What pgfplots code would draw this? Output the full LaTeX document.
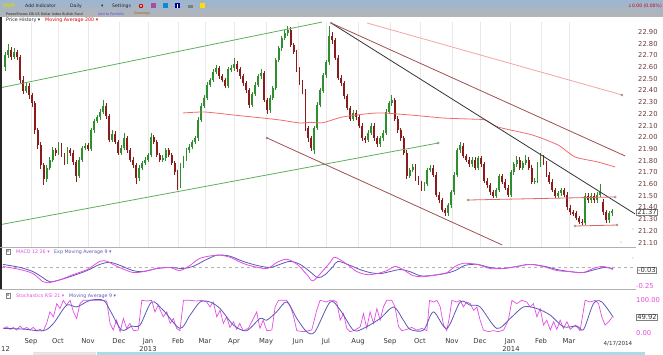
\documentclass[border=0pt]{standalone}
\usepackage{pgfplots}
\pgfplotsset{compat=1.18}
\usepackage{pgfplotstable}
\usepackage{fontspec}
\setmainfont{DejaVu Sans}
\definecolor{upc}{HTML}{2F8F2F}
\definecolor{dnc}{HTML}{8B1C1C}
\definecolor{grn}{HTML}{5DAE5D}
\definecolor{brn}{HTML}{A05050}
\definecolor{salm}{HTML}{F5A3A3}
\definecolor{mac}{HTML}{F06C6C}
\definecolor{hln}{HTML}{E06666}
\definecolor{mag}{HTML}{E44DE4}
\definecolor{sig}{HTML}{5A5AB4}
\definecolor{lbl}{HTML}{6E3A3A}
\definecolor{gridc}{HTML}{E9E9E9}
\definecolor{hdtop}{HTML}{9CB6D2}
\definecolor{hdbot}{HTML}{B4B4B4}
\definecolor{sepc}{HTML}{B0B0B0}
\definecolor{uupc}{HTML}{D8D800}
\definecolor{hdtx}{HTML}{222222}
\definecolor{bandc}{HTML}{A8DDE8}

\pgfplotstableread{
x o h l c
0.1 22.60 22.73 22.57 22.70
0.2 22.70 22.80 22.68 22.75
0.3 22.75 22.77 22.66 22.69
0.4 22.69 22.76 22.67 22.73
0.5 22.73 22.75 22.66 22.69
0.6 22.69 22.70 22.46 22.49
0.7 22.49 22.52 22.37 22.40
0.8 22.40 22.47 22.38 22.44
0.9 22.44 22.46 22.33 22.36
1.0 22.36 22.38 22.26 22.29
1.1 22.29 22.31 22.03 22.06
1.2 22.06 22.08 21.90 21.93
1.3 21.93 21.96 21.73 21.76
1.4 21.76 21.78 21.59 21.64
1.5 21.64 21.76 21.62 21.74
1.6 21.74 21.83 21.72 21.81
1.7 21.81 21.92 21.79 21.89
1.8 21.89 21.91 21.84 21.87
1.9 21.87 21.96 21.85 21.93
2.0 21.93 21.95 21.83 21.85
2.1 21.85 21.87 21.76 21.79
2.2 21.79 21.92 21.77 21.89
2.3 21.89 21.91 21.84 21.87
2.4 21.87 21.89 21.76 21.79
2.5 21.79 21.81 21.62 21.67
2.6 21.67 21.83 21.65 21.81
2.7 21.81 21.93 21.79 21.91
2.8 21.91 21.95 21.89 21.93
2.9 21.93 21.95 21.88 21.90
3.0 21.90 22.08 21.88 22.06
3.1 22.06 22.16 22.04 22.14
3.2 22.14 22.19 22.12 22.17
3.3 22.17 22.24 22.15 22.22
3.4 22.22 22.32 22.20 22.27
3.5 22.27 22.29 22.16 22.18
3.6 22.18 22.20 21.96 21.98
3.7 21.98 22.06 21.96 22.03
3.8 22.03 22.05 21.94 21.96
3.9 21.96 21.98 21.85 21.87
4.0 21.87 21.93 21.85 21.91
4.1 21.91 22.04 21.89 21.99
4.2 21.99 22.01 21.87 21.89
4.3 21.89 21.91 21.79 21.81
4.4 21.81 21.83 21.74 21.76
4.5 21.76 21.78 21.60 21.65
4.6 21.65 21.76 21.63 21.74
4.7 21.74 21.80 21.72 21.78
4.8 21.78 21.83 21.76 21.81
4.9 21.81 21.87 21.79 21.85
5.0 21.85 22.04 21.83 22.00
5.1 22.00 22.02 21.94 21.96
5.2 21.96 21.98 21.83 21.85
5.3 21.85 21.87 21.79 21.81
5.4 21.81 21.85 21.79 21.82
5.5 21.82 21.91 21.80 21.89
5.6 21.89 21.91 21.83 21.85
5.7 21.85 21.87 21.76 21.78
5.8 21.78 21.80 21.68 21.70
5.9 21.70 21.72 21.55 21.59
6.0 21.59 21.78 21.57 21.76
6.1 21.76 21.84 21.74 21.82
6.2 21.82 21.91 21.80 21.89
6.3 21.89 21.94 21.87 21.92
6.4 21.92 21.98 21.90 21.96
6.5 21.96 22.01 21.94 21.99
6.6 21.99 22.17 21.97 22.15
6.7 22.15 22.29 22.13 22.27
6.8 22.27 22.36 22.25 22.34
6.9 22.34 22.47 22.32 22.45
7.0 22.45 22.51 22.43 22.49
7.1 22.49 22.58 22.47 22.56
7.2 22.56 22.62 22.54 22.59
7.3 22.59 22.61 22.50 22.52
7.4 22.52 22.54 22.47 22.49
7.5 22.49 22.51 22.42 22.44
7.6 22.44 22.60 22.42 22.58
7.7 22.58 22.62 22.56 22.59
7.8 22.59 22.68 22.57 22.63
7.9 22.63 22.65 22.56 22.58
8.0 22.58 22.60 22.50 22.52
8.1 22.52 22.54 22.44 22.46
8.2 22.46 22.48 22.38 22.40
8.3 22.40 22.42 22.25 22.28
8.4 22.28 22.39 22.26 22.37
8.5 22.37 22.47 22.35 22.45
8.6 22.45 22.54 22.43 22.52
8.7 22.52 22.58 22.50 22.55
8.8 22.55 22.57 22.30 22.32
8.9 22.32 22.34 22.20 22.23
9.0 22.23 22.36 22.21 22.34
9.1 22.34 22.44 22.32 22.42
9.2 22.42 22.68 22.40 22.66
9.3 22.66 22.78 22.64 22.76
9.4 22.76 22.87 22.74 22.85
9.5 22.85 22.92 22.83 22.89
9.6 22.89 22.95 22.87 22.92
9.7 22.92 22.94 22.77 22.79
9.8 22.79 22.81 22.71 22.73
9.9 22.73 22.75 22.56 22.58
10.0 22.58 22.60 22.45 22.47
10.1 22.47 22.49 22.37 22.39
10.2 22.39 22.41 22.05 22.08
10.3 22.08 22.10 21.96 21.99
10.4 21.99 22.01 21.88 21.91
10.5 21.89 22.10 21.86 22.08
10.6 22.08 22.30 22.06 22.28
10.7 22.28 22.42 22.26 22.40
10.8 22.40 22.55 22.38 22.53
10.9 22.53 22.66 22.51 22.64
11.0 22.64 22.95 22.62 22.87
11.1 22.87 22.90 22.80 22.83
11.2 22.83 22.85 22.66 22.68
11.3 22.68 22.70 22.49 22.51
11.4 22.51 22.53 22.44 22.46
11.5 22.46 22.48 22.33 22.35
11.6 22.35 22.37 22.23 22.25
11.7 22.25 22.27 22.14 22.16
11.8 22.16 22.23 22.14 22.21
11.9 22.21 22.23 22.15 22.17
12.0 22.17 22.19 22.08 22.10
12.1 22.10 22.12 21.97 21.99
12.2 21.99 22.01 21.95 21.98
12.3 21.98 22.06 21.96 22.04
12.4 22.04 22.12 22.02 22.10
12.5 22.10 22.12 21.97 21.99
12.6 21.99 22.01 21.92 21.94
12.7 21.94 22.01 21.92 21.99
12.8 21.99 22.06 21.97 22.04
12.9 22.04 22.24 22.02 22.22
13.0 22.22 22.31 22.20 22.29
13.1 22.29 22.36 22.27 22.32
13.2 22.32 22.34 22.14 22.16
13.3 22.16 22.18 22.04 22.06
13.4 22.06 22.08 21.97 21.99
13.5 21.99 22.01 21.85 21.87
13.6 21.87 21.89 21.64 21.67
13.7 21.67 21.74 21.65 21.72
13.8 21.72 21.77 21.70 21.75
13.9 21.75 21.77 21.63 21.65
14.0 21.65 21.67 21.59 21.61
14.1 21.61 21.63 21.54 21.56
14.2 21.56 21.62 21.54 21.60
14.3 21.60 21.74 21.58 21.72
14.4 21.72 21.76 21.70 21.74
14.5 21.74 21.76 21.66 21.68
14.6 21.68 21.70 21.49 21.51
14.7 21.51 21.53 21.44 21.46
14.8 21.46 21.48 21.36 21.38
14.9 21.38 21.40 21.33 21.35
15.0 21.35 21.44 21.33 21.42
15.1 21.42 21.55 21.40 21.53
15.2 21.53 21.70 21.51 21.68
15.3 21.68 21.91 21.66 21.89
15.4 21.89 21.96 21.87 21.93
15.5 21.93 21.95 21.82 21.84
15.6 21.84 21.86 21.79 21.81
15.7 21.81 21.83 21.75 21.77
15.8 21.77 21.83 21.75 21.81
15.9 21.81 21.83 21.72 21.74
16.0 21.74 21.84 21.72 21.82
16.1 21.82 21.84 21.75 21.77
16.2 21.77 21.79 21.61 21.63
16.3 21.63 21.65 21.57 21.59
16.4 21.59 21.61 21.51 21.53
16.5 21.53 21.55 21.48 21.50
16.6 21.50 21.57 21.48 21.55
16.7 21.55 21.69 21.53 21.67
16.8 21.67 21.69 21.60 21.62
16.9 21.62 21.64 21.55 21.57
17.0 21.57 21.59 21.49 21.51
17.1 21.51 21.72 21.49 21.70
17.2 21.70 21.79 21.68 21.77
17.3 21.77 21.84 21.75 21.81
17.4 21.81 21.83 21.72 21.74
17.5 21.74 21.80 21.72 21.78
17.6 21.78 21.85 21.76 21.81
17.7 21.81 21.83 21.72 21.74
17.8 21.74 21.76 21.60 21.62
17.9 21.62 21.65 21.60 21.63
18.0 21.63 21.79 21.61 21.77
18.1 21.77 21.87 21.75 21.83
18.2 21.83 21.85 21.76 21.78
18.3 21.78 21.80 21.66 21.68
18.4 21.68 21.70 21.60 21.62
18.5 21.62 21.64 21.53 21.55
18.6 21.55 21.57 21.48 21.50
18.7 21.50 21.54 21.48 21.52
18.8 21.52 21.57 21.50 21.55
18.9 21.55 21.57 21.49 21.51
19.0 21.51 21.53 21.38 21.40
19.1 21.40 21.42 21.34 21.36
19.2 21.36 21.38 21.33 21.35
19.3 21.35 21.37 21.29 21.31
19.4 21.31 21.33 21.26 21.28
19.5 21.28 21.30 21.25 21.27
19.6 21.27 21.52 21.25 21.50
19.7 21.50 21.52 21.44 21.46
19.8 21.46 21.52 21.44 21.50
19.9 21.50 21.52 21.44 21.46
20.0 21.46 21.53 21.44 21.51
20.1 21.51 21.60 21.49 21.53
20.2 21.45 21.47 21.34 21.36
20.3 21.36 21.38 21.27 21.29
20.4 21.29 21.37 21.27 21.35
20.5 21.35 21.39 21.33 21.37
}\price

\pgfplotsset{
  panel/.style={scale only axis, width=634bp, xmin=0, xmax=21.31,
    axis line style={draw=none}, major tick length=0pt,
    xtick={0.975,1.882,2.891,3.933,4.908,5.916,6.824,7.798,8.874,9.950,10.891,11.966,13.042,14.050,15.126,16.067,17.076,18.118,19.059},
    yticklabel pos=right,
    /pgf/number format/assume math mode=true,
    clip=true},
  wick/.style={draw=none, mark=none, forget plot, error bars/y dir=both, error bars/y explicit, error bars/error mark=none,
    error bars/error bar style={draw=#1, line width=0.5bp}},
  body/.style={draw=none, mark=none, forget plot, error bars/y dir=both, error bars/y explicit, error bars/error mark=none,
    error bars/error bar style={draw=#1, line width=1.9bp}},
  endmk/.style={mark=o, mark size=1.1bp, mark options={draw=gray, solid, line width=0.4bp}}
}

\begin{document}
\begin{tikzpicture}
\path[use as bounding box] (0bp,0bp) rectangle (663bp,355bp);
\begin{scope}[x=1bp,y=1bp]
% header
\shade[top color=hdtop, bottom color=hdbot] (0,338) rectangle (663,355);
\node[anchor=west, inner sep=0, font=\fontsize{5}{6}\selectfont\bfseries, text=uupc] at (3,349) {UUP};
\node[anchor=west, inner sep=0, font=\fontsize{4.6}{6}\selectfont, text=hdtx] at (25,349) {Add Indicator};
\node[anchor=west, inner sep=0, font=\fontsize{4.6}{6}\selectfont, text=hdtx] at (70,349) {Daily};
\node[anchor=west, inner sep=0, font=\fontsize{4.6}{6}\selectfont, text=hdtx] at (101,349) {▾};
\node[anchor=west, inner sep=0, font=\fontsize{4.6}{6}\selectfont, text=hdtx] at (112,349) {Settings};
\fill[red!80!black] (141,349) circle (2.2);
\fill[white] (141,349) circle (1);
\fill[violet!70] (150.5,346.5) rectangle (155.5,351.5);
\fill[cyan!70!blue] (162.5,346.5) rectangle (167.5,351.5);
\fill[blue!60!black] (174.5,346.5) rectangle (179.5,351.5);
\fill[white] (176.5,347) rectangle (177.5,350.5);
\fill[gray] (188,347) rectangle (193,350);
\fill[yellow!80!orange] (200,346.5) rectangle (205,351.5);
\node[anchor=east, inner sep=0, font=\fontsize{4.6}{6}\selectfont, text=red!80!black] at (662,349) {↓0.00 (0.00\%)};
\node[anchor=west, inner sep=0, font=\fontsize{3.4}{4}\selectfont, text=hdtx] at (6,341) {PowerShares DB US Dollar Index Bullish Fund};
\node[anchor=west, inner sep=0, font=\fontsize{3.4}{4}\selectfont, text=blue!70] at (98,341) {Add to Portfolio};
\node[anchor=west, inner sep=0, font=\fontsize{3.4}{4}\selectfont, text=orange!70!black] at (134,341) {Drawings};
% left dark edge and separators
\fill[black!85] (0,65) rectangle (2,338);
\draw[sepc, line width=0.7bp] (0,107.5) -- (636,107.5);
\draw[sepc, line width=0.7bp] (0,65.5) -- (636,65.5);
% bottom band
\fill[black!10] (33,0) rectangle (96,3);
\fill[bandc] (97,0) rectangle (645,3.5);
\end{scope}

% ---------------- price panel
\begin{axis}[panel, at={(2bp,108bp)}, anchor=south west, height=225bp,
  ymin=21.0624, ymax=22.9855,
  xticklabels={}, xmajorgrids, major grid style={gridc, line width=0.9bp},
  ytick={21.1,21.2,21.3,21.4,21.5,21.6,21.7,21.8,21.9,22.0,22.1,22.2,22.3,22.4,22.5,22.6,22.7,22.8,22.9},
  yticklabel style={font=\fontsize{6.8}{8}\selectfont, text=lbl, anchor=west, inner sep=0pt, xshift=2bp,
    /pgf/number format/fixed, /pgf/number format/fixed zerofill, /pgf/number format/precision=2}]
% candles
\addplot[restrict expr to domain={\thisrow{c}-\thisrow{o}}{0:5}, wick=upc]
  table[x=x, y expr={(\thisrow{h}+\thisrow{l})/2}, y error expr={(\thisrow{h}-\thisrow{l})/2}] {\price};
\addplot[restrict expr to domain={\thisrow{c}-\thisrow{o}}{0:5}, body=upc]
  table[x=x, y expr={(\thisrow{o}+\thisrow{c})/2}, y error expr={(\thisrow{c}-\thisrow{o})/2}] {\price};
\addplot[restrict expr to domain={\thisrow{c}-\thisrow{o}}{-5:-0.001}, wick=dnc]
  table[x=x, y expr={(\thisrow{h}+\thisrow{l})/2}, y error expr={(\thisrow{h}-\thisrow{l})/2}] {\price};
\addplot[restrict expr to domain={\thisrow{c}-\thisrow{o}}{-5:-0.001}, body=dnc]
  table[x=x, y expr={(\thisrow{o}+\thisrow{c})/2}, y error expr={(\thisrow{o}-\thisrow{c})/2}] {\price};
% moving average 200
\addplot[mac, line width=0.8bp, smooth, tension=0.4] coordinates {
 (6.08,22.208) (6.82,22.216) (7.8,22.19) (8.74,22.165) (9.34,22.148) (10.02,22.122) (10.35,22.128)
 (10.79,22.125) (11.46,22.174) (12.61,22.208) (13.71,22.191) (14.82,22.165) (15.73,22.156)
 (16.24,22.148) (16.67,22.088) (17.82,22.020) (18.69,21.934) (19.26,21.832) (20.03,21.789) (20.61,21.746)};
% trend lines
\addplot[grn, line width=0.8bp] coordinates {(0.0,22.426) (10.76,22.985)};
\addplot[grn, line width=0.8bp] coordinates {(0.0,21.256) (14.66,21.951)};
\addplot[brn, line width=0.8bp] coordinates {(8.91,21.994) (16.81,21.08)};
\addplot[black!80, line width=0.8bp] coordinates {(11.06,22.977) (21.28,21.345)};
\addplot[brn, line width=0.8bp] coordinates {(11.06,22.977) (20.94,21.841)};
\addplot[salm, line width=0.8bp] coordinates {(12.27,22.977) (20.84,22.362)};
\addplot[hln, line width=0.8bp] coordinates {(15.66,21.464) (20.61,21.490)};
\addplot[hln, line width=0.8bp] coordinates {(19.26,21.242) (20.67,21.250)};
\addplot[only marks, endmk] coordinates {(14.66,21.951) (8.91,21.994) (11.06,22.977) (20.84,22.362)
  (15.66,21.464) (20.61,21.490) (19.26,21.242) (20.67,21.250)};
\end{axis}

% ---------------- MACD panel
\begin{axis}[panel, at={(2bp,66bp)}, anchor=south west, height=41bp,
  ymin=-0.2917, ymax=0.2639, xticklabels={},
  ytick={-0.25}, yticklabels={-0.25},
  yticklabel style={font=\fontsize{6.8}{8}\selectfont, text=mag, anchor=west, inner sep=0pt, xshift=0bp}]
\addplot[gray!60, dashed, line width=0.6bp] coordinates {(0,0) (21.2,0)};
\addplot[sig, line width=0.8bp, smooth, tension=0.5] coordinates {
 (0.03,0.042) (0.61,0.0) (1.04,-0.056) (1.38,-0.139) (1.61,-0.194) (1.95,-0.167) (2.39,-0.111)
 (2.86,-0.042) (3.29,0.042) (3.63,0.069) (3.97,0.028) (4.40,-0.042) (4.74,-0.056) (5.21,-0.014)
 (5.65,0.0) (6.08,-0.014) (6.42,0.014) (6.82,0.097) (7.23,0.167) (7.66,0.153) (8.10,0.083)
 (8.57,0.028) (9.01,0.0) (9.34,0.042) (9.68,0.083) (10.02,0.042) (10.35,-0.056) (10.62,-0.139)
 (10.86,-0.097) (11.13,0.014) (11.29,0.083) (11.70,0.028) (12.03,-0.028) (12.37,-0.069)
 (12.71,-0.083) (13.04,-0.056) (13.38,-0.028) (13.71,-0.056) (14.05,-0.111) (14.39,-0.111)
 (14.89,-0.083) (15.23,-0.042) (15.56,0.028) (15.97,0.042) (16.40,0.0) (16.84,-0.014)
 (17.31,0.014) (17.75,0.042) (18.25,0.014) (18.66,-0.028) (19.09,-0.056) (19.53,-0.069)
 (19.93,-0.028) (20.27,0.0) (20.54,-0.014)};
\addplot[mag, line width=0.8bp, smooth, tension=0.5] coordinates {
 (0.03,0.014) (0.61,-0.028) (1.04,-0.083) (1.38,-0.194) (1.55,-0.208) (1.95,-0.167) (2.39,-0.097)
 (2.86,-0.028) (3.29,0.083) (3.53,0.083) (3.87,0.014) (4.40,-0.069) (4.74,-0.056) (5.21,-0.014)
 (5.65,0.0) (5.98,-0.042) (6.32,0.028) (6.66,0.125) (7.23,0.167) (7.66,0.139) (8.10,0.056)
 (8.44,0.014) (8.91,-0.014) (9.24,0.069) (9.58,0.111) (9.92,0.042) (10.25,-0.097) (10.45,-0.181)
 (10.76,-0.056) (11.03,0.069) (11.19,0.139) (11.60,0.042) (11.93,-0.056) (12.27,-0.097)
 (12.61,-0.083) (12.94,-0.042) (13.21,0.014) (13.48,-0.028) (13.82,-0.111) (14.15,-0.125)
 (14.62,-0.097) (14.96,-0.069) (15.23,0.014) (15.50,0.056) (15.97,0.042) (16.40,-0.014)
 (16.84,-0.014) (17.31,0.014) (17.75,0.042) (18.18,0.014) (18.66,-0.042) (19.09,-0.056)
 (19.53,-0.069) (19.87,-0.014) (20.20,0.014) (20.54,-0.028)};
\end{axis}

% ---------------- Stochastic RSI panel
\begin{axis}[panel, at={(2bp,18bp)}, anchor=south west, height=47bp,
  ymin=-12.1, ymax=130.3,
  xticklabels={Sep,Oct,Nov,Dec,Jan,Feb,Mar,Apr,May,Jun,Jul,Aug,Sep,Oct,Nov,Dec,Jan,Feb,Mar},
  xticklabel style={font=\fontsize{6.8}{8}\selectfont, text=black!80, anchor=north, inner sep=0pt, yshift=-1.5bp},
  ytick={0,100}, yticklabels={0.00,100.00},
  yticklabel style={font=\fontsize{6.8}{8}\selectfont, text=mag, anchor=west, inner sep=0pt, xshift=0bp}]
\addplot[mag, line width=0.7bp] coordinates {
 (0.05,14) (0.16,19) (0.27,11) (0.38,17) (0.49,9) (0.61,21) (0.72,11) (0.83,17) (0.94,9) (1.05,17)
 (1.17,7) (1.28,11) (1.39,7) (1.50,29) (1.61,64) (1.73,49) (1.84,89) (1.95,74) (2.06,99) (2.17,84)
 (2.29,99) (2.40,64) (2.51,44) (2.62,89) (2.73,99) (2.96,99) (3.29,99) (3.52,97) (3.63,29) (3.74,9)
 (3.85,39) (3.97,4) (4.08,44) (4.19,14) (4.30,29) (4.42,7) (4.58,9) (4.70,99) (4.86,97) (5.03,99)
 (5.14,64) (5.25,84) (5.42,49) (5.54,64) (5.65,29) (5.76,44) (5.87,14) (5.98,7) (6.10,99) (6.32,99)
 (6.54,97) (6.71,99) (6.88,94) (6.99,79) (7.10,94) (7.22,49) (7.33,69) (7.44,29) (7.55,49) (7.66,17)
 (7.78,34) (7.89,11) (7.99,29) (8.11,7) (8.28,14) (8.45,44) (8.56,64) (8.67,14) (8.78,39) (8.90,7)
 (9.07,9) (9.18,79) (9.29,99) (9.57,99) (9.68,84) (9.79,54) (9.91,7) (10.13,4) (10.41,9) (10.58,69)
 (10.69,99) (10.91,94) (11.03,99) (11.14,99) (11.25,94) (11.37,39) (11.48,59) (11.59,14) (11.70,4)
 (11.87,9) (12.04,19) (12.15,59) (12.26,14) (12.37,64) (12.49,29) (12.60,74) (12.71,39) (12.82,79)
 (12.93,99) (13.10,99) (13.21,79) (13.33,19) (13.44,7) (13.61,11) (13.77,17) (13.94,9) (14.11,14)
 (14.28,7) (14.37,99) (14.50,94) (14.62,99) (14.73,79) (14.84,24) (14.95,7) (15.04,49) (15.12,99)
 (15.29,94) (15.40,99) (15.51,79) (15.62,94) (15.74,89) (15.85,69) (15.96,79) (16.07,39) (16.18,9)
 (16.35,4) (16.52,7) (16.69,4) (16.86,9) (17.02,39) (17.14,99) (17.30,89) (17.47,99) (17.64,94)
 (17.75,79) (17.86,89) (17.98,49) (18.09,74) (18.20,24) (18.31,39) (18.43,9) (18.54,34) (18.65,11)
 (18.76,39) (18.87,14) (18.99,34) (19.10,11) (19.27,24) (19.43,7) (19.60,99) (19.77,94) (19.94,99)
 (20.05,89) (20.16,49) (20.27,24) (20.39,34) (20.50,47)};
\addplot[sig, line width=0.8bp, smooth, tension=0.5] coordinates {
 (0.05,14) (0.7,12) (1.39,7) (1.73,29) (2.17,84) (2.51,79) (2.96,99) (3.41,99) (3.63,69) (4.02,9)
 (4.36,21) (4.64,24) (5.03,94) (5.42,69) (5.98,14) (6.32,54) (6.66,94) (6.99,94) (7.33,74) (7.78,24)
 (8.22,7) (8.67,44) (8.90,39) (9.23,64) (9.57,94) (9.91,44) (10.24,4) (10.52,4) (11.03,94)
 (11.37,69) (11.81,9) (12.15,14) (12.71,44) (13.16,79) (13.49,39) (13.72,11) (14.17,9) (14.50,64)
 (14.95,14) (15.40,94) (15.74,84) (16.07,79) (16.63,14) (17.08,44) (17.53,79) (17.98,74)
 (18.43,54) (18.87,19) (19.32,21) (19.55,11) (19.88,89) (20.16,94) (20.55,47)};
\end{axis}

\begin{scope}[x=1bp,y=1bp]
% panel labels
\node[anchor=west, inner sep=0, font=\fontsize{4.8}{6}\selectfont, text=hdtx] at (6,335) {Price History ▾};
\node[anchor=west, inner sep=0, font=\fontsize{4.8}{6}\selectfont, text=red!85!black] at (45,335) {Moving Average 200 ▾};
\draw[gray, line width=0.4bp] (6,101) rectangle (10.5,105.5);
\node[inner sep=0, font=\fontsize{3.5}{4}\selectfont] at (8.25,103.25) {x};
\node[anchor=west, inner sep=0, font=\fontsize{4.8}{6}\selectfont, text=mag] at (16,103) {MACD 12 26 ▾};
\node[anchor=west, inner sep=0, font=\fontsize{4.8}{6}\selectfont, text=sig] at (54,103) {Exp Moving Average 9 ▾};
\draw[gray, line width=0.4bp] (6,57) rectangle (10.5,61.5);
\node[inner sep=0, font=\fontsize{3.5}{4}\selectfont] at (8.25,59.25) {x};
\node[anchor=west, inner sep=0, font=\fontsize{4.8}{6}\selectfont, text=mag] at (16,59) {Stochastics RSI 21 ▾};
\node[anchor=west, inner sep=0, font=\fontsize{4.8}{6}\selectfont, text=sig] at (69,59) {Moving Average 9 ▾};
% value boxes
\node[draw=gray, fill=white, inner sep=0.7bp, font=\fontsize{6.8}{8}\selectfont, text=black!80] at (647,143) {21.37};
\node[draw=gray, fill=white, inner sep=0.7bp, font=\fontsize{6.8}{8}\selectfont, text=black!80] at (647,85) {-0.03};
\node[draw=gray, fill=white, inner sep=0.7bp, font=\fontsize{6.8}{8}\selectfont, text=black!80] at (647,38) {49.92};
% small gray dots beside labels
\fill[gray!70] (633,126) circle (0.6);
\fill[gray!70] (621,113) circle (0.6);
\fill[gray!70] (633,97) circle (0.6);
% years and date
\node[anchor=west, inner sep=0, font=\fontsize{6.8}{8}\selectfont, text=black!80] at (1,6) {12};
\node[inner sep=0, font=\fontsize{6.8}{8}\selectfont, text=black!80] at (148,6) {2013};
\node[inner sep=0, font=\fontsize{6.8}{8}\selectfont, text=black!80] at (511,6) {2014};
\node[inner sep=0, font=\fontsize{5.6}{7}\selectfont, text=black!80] at (618,11) {4/17/2014};
\end{scope}
\end{tikzpicture}
\end{document}
